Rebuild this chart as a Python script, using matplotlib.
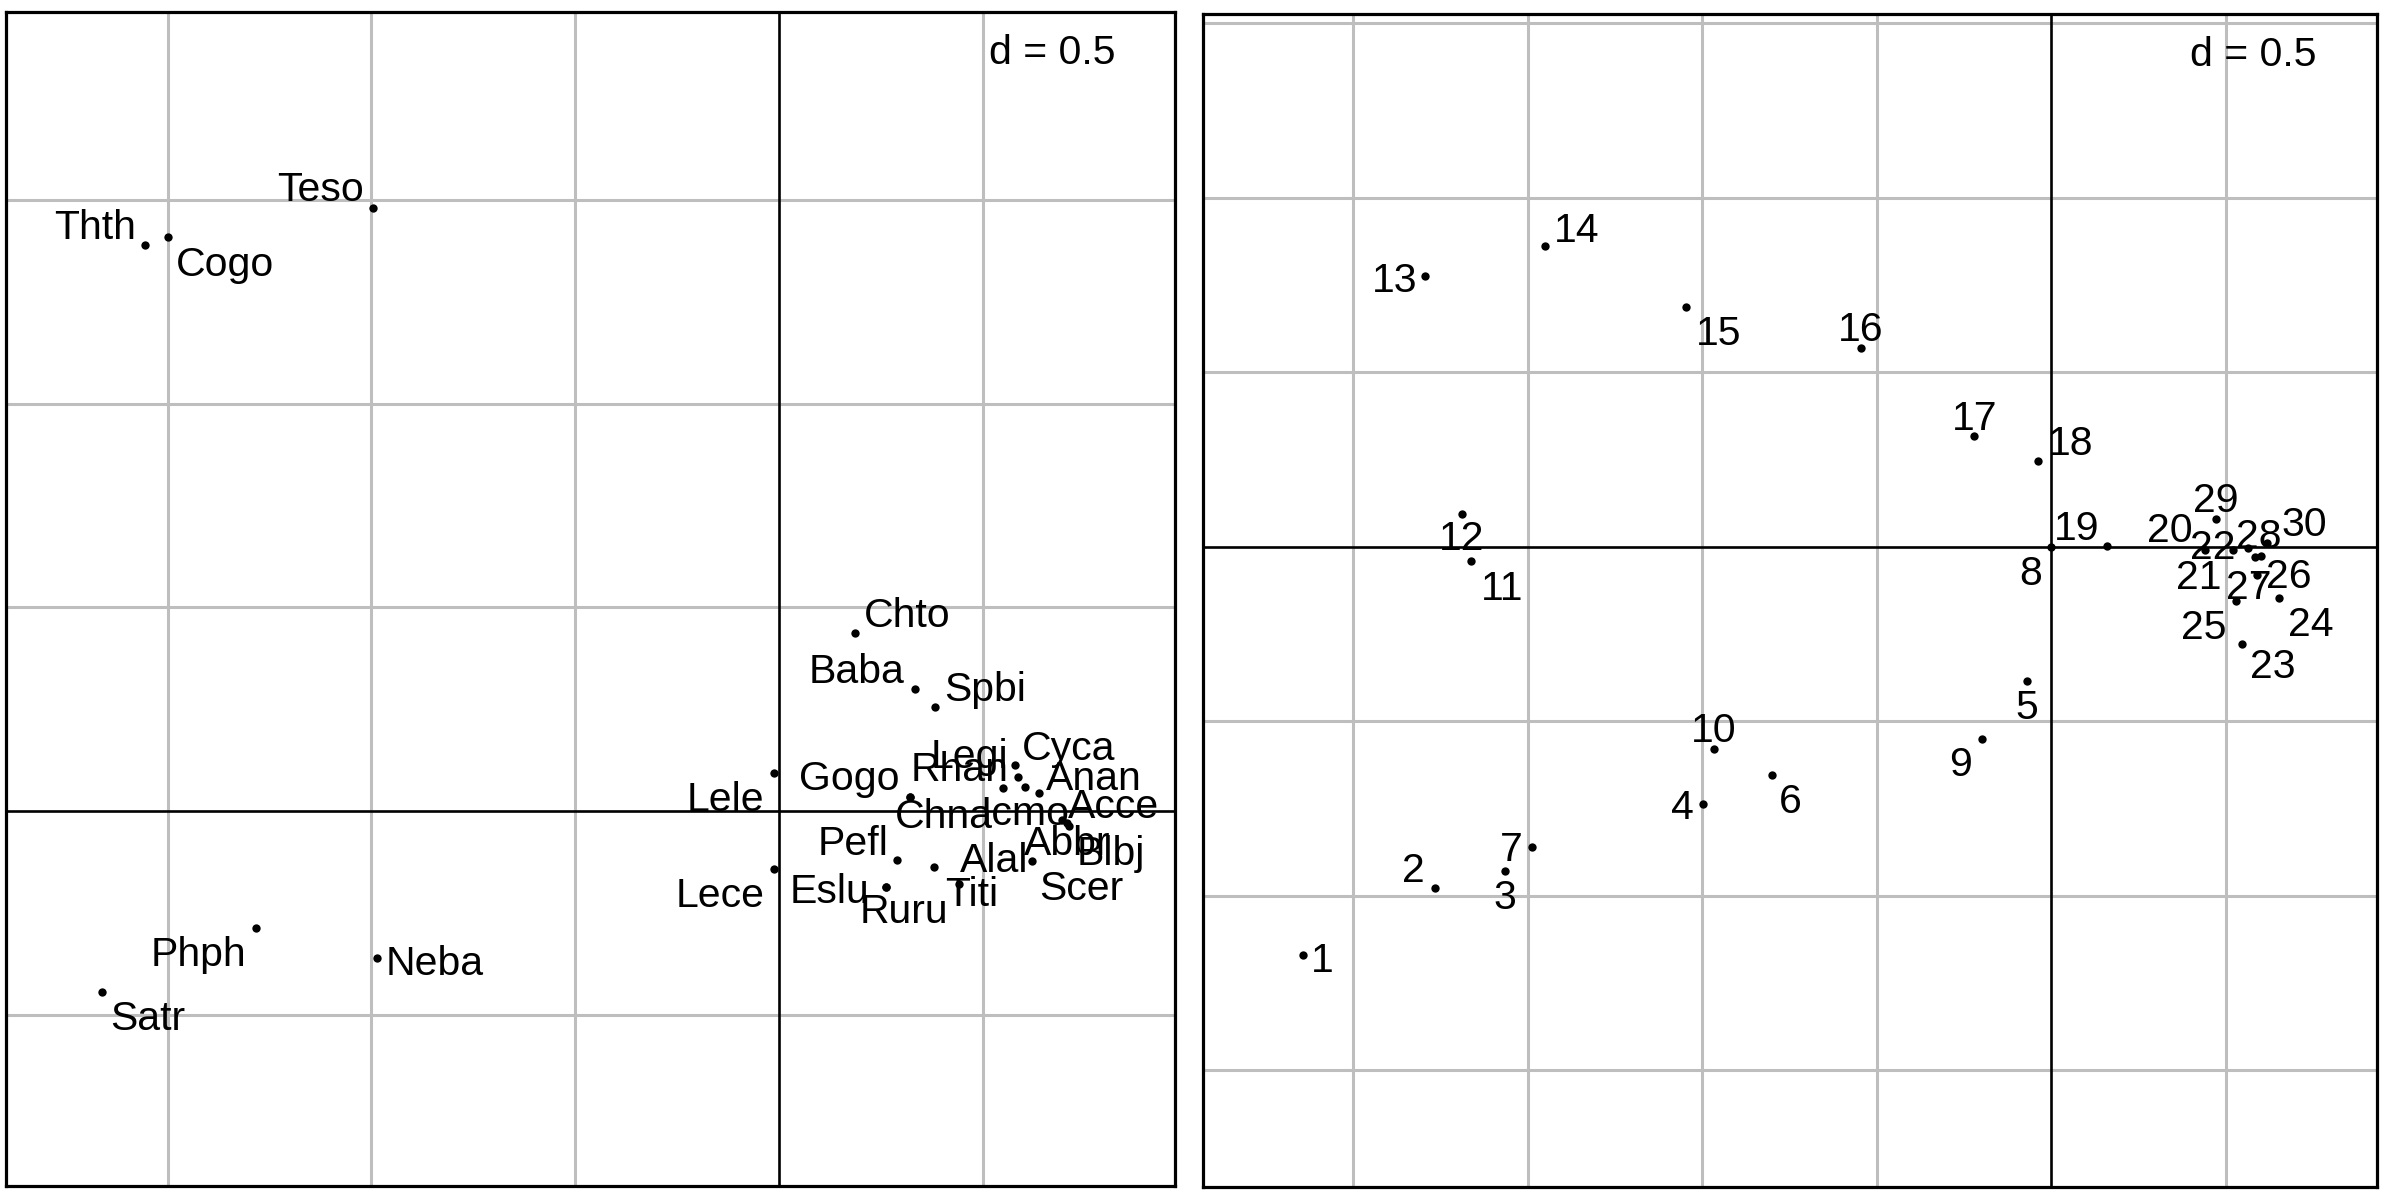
import matplotlib
matplotlib.use("Agg")
import matplotlib.pyplot as plt
import numpy as np

# ---------------- data ----------------
species = ["Cogo", "Thth", "Teso", "Satr", "Phph", "Neba", "Chto", "Baba", "Spbi",
           "Lele", "Lece", "Gogo", "Chna", "Rhan", "Legi", "Cyca", "Anan", "Icmo",
           "Acce", "Abbr", "Blbj", "Pefl", "Alal", "Scer", "Titi", "Ruru", "Eslu"]
species_x = [-1.499, -1.555, -0.996, -1.662, -1.283, -0.987, 0.186, 0.334, 0.383,
             -0.011, -0.011, 0.322, 0.322, 0.551, 0.586, 0.579, 0.639, 0.604,
             0.706, 0.695, 0.712, 0.290, 0.380, 0.620, 0.443, 0.263, 0.263]
species_y = [1.409, 1.390, 1.480, -0.445, -0.287, -0.360, 0.437, 0.300, 0.255,
             0.094, -0.141, 0.034, 0.034, 0.056, 0.083, 0.113, 0.045, 0.060,
             -0.030, -0.022, -0.036, -0.120, -0.137, -0.122, -0.180, -0.187, -0.187]

sites = [str(i) for i in range(1, 31)]
sites_x = [-2.145, -1.765, -1.566, -0.998, -0.070, -0.800, -1.487, 0.000, -0.200, -0.967,
           -1.664, -1.689, -1.794, -1.452, -1.046, -0.546, -0.221, -0.039, 0.160, 0.440,
           0.519, 0.564, 0.546, 0.651, 0.528, 0.583, 0.588, 0.600, 0.471, 0.618]
sites_y = [-1.171, -0.978, -0.930, -0.737, -0.386, -0.654, -0.860, 0.000, -0.550, -0.581,
           -0.042, 0.094, 0.774, 0.860, 0.686, 0.570, 0.318, 0.246, 0.002, -0.009,
           -0.009, -0.005, -0.278, -0.146, -0.157, -0.031, -0.081, -0.028, 0.079, 0.011]

grid_step = 0.5
scale_label = "d = 0.5"

# ---------------- layout (label offsets in pixels, centre of text relative to point) ----------------
species_offsets = {
    "Teso": (-53, 21), "Thth": (-50, 20), "Cogo": (57, -25), "Chto": (52, 20),
    "Baba": (-58, 20), "Spbi": (50, 20), "Lele": (-49, -24), "Lece": (-54, -24),
    "Phph": (-58, -24), "Neba": (58, -3), "Satr": (46, -24),
    "Gogo": (-61, 21), "Chna": (34, -17), "Rhan": (-44, 21), "Legi": (-48, 23),
    "Cyca": (54, 19), "Anan": (54, 17), "Icmo": (0, -24), "Acce": (47, 19),
    "Abbr": (5, -21), "Blbj": (42, -25), "Pefl": (-44, 19), "Alal": (60, 9),
    "Scer": (50, -25), "Titi": (12, -8), "Ruru": (18, -22), "Eslu": (-57, -2),
}
sites_offsets = {
    "1": (19, -3), "2": (-22, 20), "3": (0, -24), "4": (-21, -1), "5": (0, -24),
    "6": (18, -24), "7": (-21, 0), "8": (-21, -24), "9": (-21, -23), "10": (0, 21),
    "11": (31, -25), "12": (0, -22), "13": (-31, -2), "14": (32, 18), "15": (32, -24),
    "16": (0, 21), "17": (0, 20), "18": (33, 20), "19": (-31, 20), "20": (-35, 22),
    "21": (-34, -25), "22": (-35, 3), "23": (31, -20), "24": (32, -24), "25": (-32, -24),
    "26": (34, -17), "27": (-8, -10), "28": (-2, 22), "29": (0, 21), "30": (37, 21),
}

FONT = ["Liberation Sans", "DejaVu Sans"]
FS = 29.5
CAP_HALF = 14  # half cap-height in pixels

fig = plt.figure(figsize=(24, 12), dpi=100)
fig.patch.set_facecolor("white")

ax1 = fig.add_axes([6 / 2400, 1 - 1186 / 1200, 1169 / 2400, 1174 / 1200])
ax2 = fig.add_axes([1203 / 2400, 1 - 1187 / 1200, 1174 / 2400, 1173 / 1200])


def setup(ax, xlim, ylim):
    ax.set_xlim(*xlim)
    ax.set_ylim(*ylim)
    xs = np.arange(np.ceil(xlim[0] / grid_step) * grid_step, xlim[1] + 1e-9, grid_step)
    ys = np.arange(np.ceil(ylim[0] / grid_step) * grid_step, ylim[1] + 1e-9, grid_step)
    for v in xs:
        if abs(v) > 1e-9:
            ax.axvline(v, color="#bebebe", lw=2.2, zorder=0)
    for v in ys:
        if abs(v) > 1e-9:
            ax.axhline(v, color="#bebebe", lw=2.2, zorder=0)
    ax.axvline(0, color="black", lw=1.9, zorder=1)
    ax.axhline(0, color="black", lw=1.9, zorder=1)
    ax.set_xticks([])
    ax.set_yticks([])
    for s in ax.spines.values():
        s.set_linewidth(2.3)
        s.set_color("black")
    ax.text(1 - 60 / 1170, 1 - 41 / 1174, scale_label, transform=ax.transAxes,
            ha="right", va="center", fontsize=FS, family=FONT, zorder=5)


def draw(ax, names, xs, ys, offsets):
    ax.plot(xs, ys, "o", color="black", ms=6, mec="none", zorder=3)
    for n, x, y in zip(names, xs, ys):
        dx, dy = offsets.get(n, (0, 0))
        ax.annotate(n, (x, y), xytext=(dx, dy - CAP_HALF), textcoords="offset pixels",
                    ha="center", va="baseline", fontsize=FS, family=FONT, zorder=4)


setup(ax1, (-1.897, 0.972), (-0.920, 1.961))
draw(ax1, species, species_x, species_y, species_offsets)

setup(ax2, (-2.431, 0.933), (-1.835, 1.526))
draw(ax2, sites, sites_x, sites_y, sites_offsets)

fig.savefig("out.png", dpi=100, facecolor="white")
